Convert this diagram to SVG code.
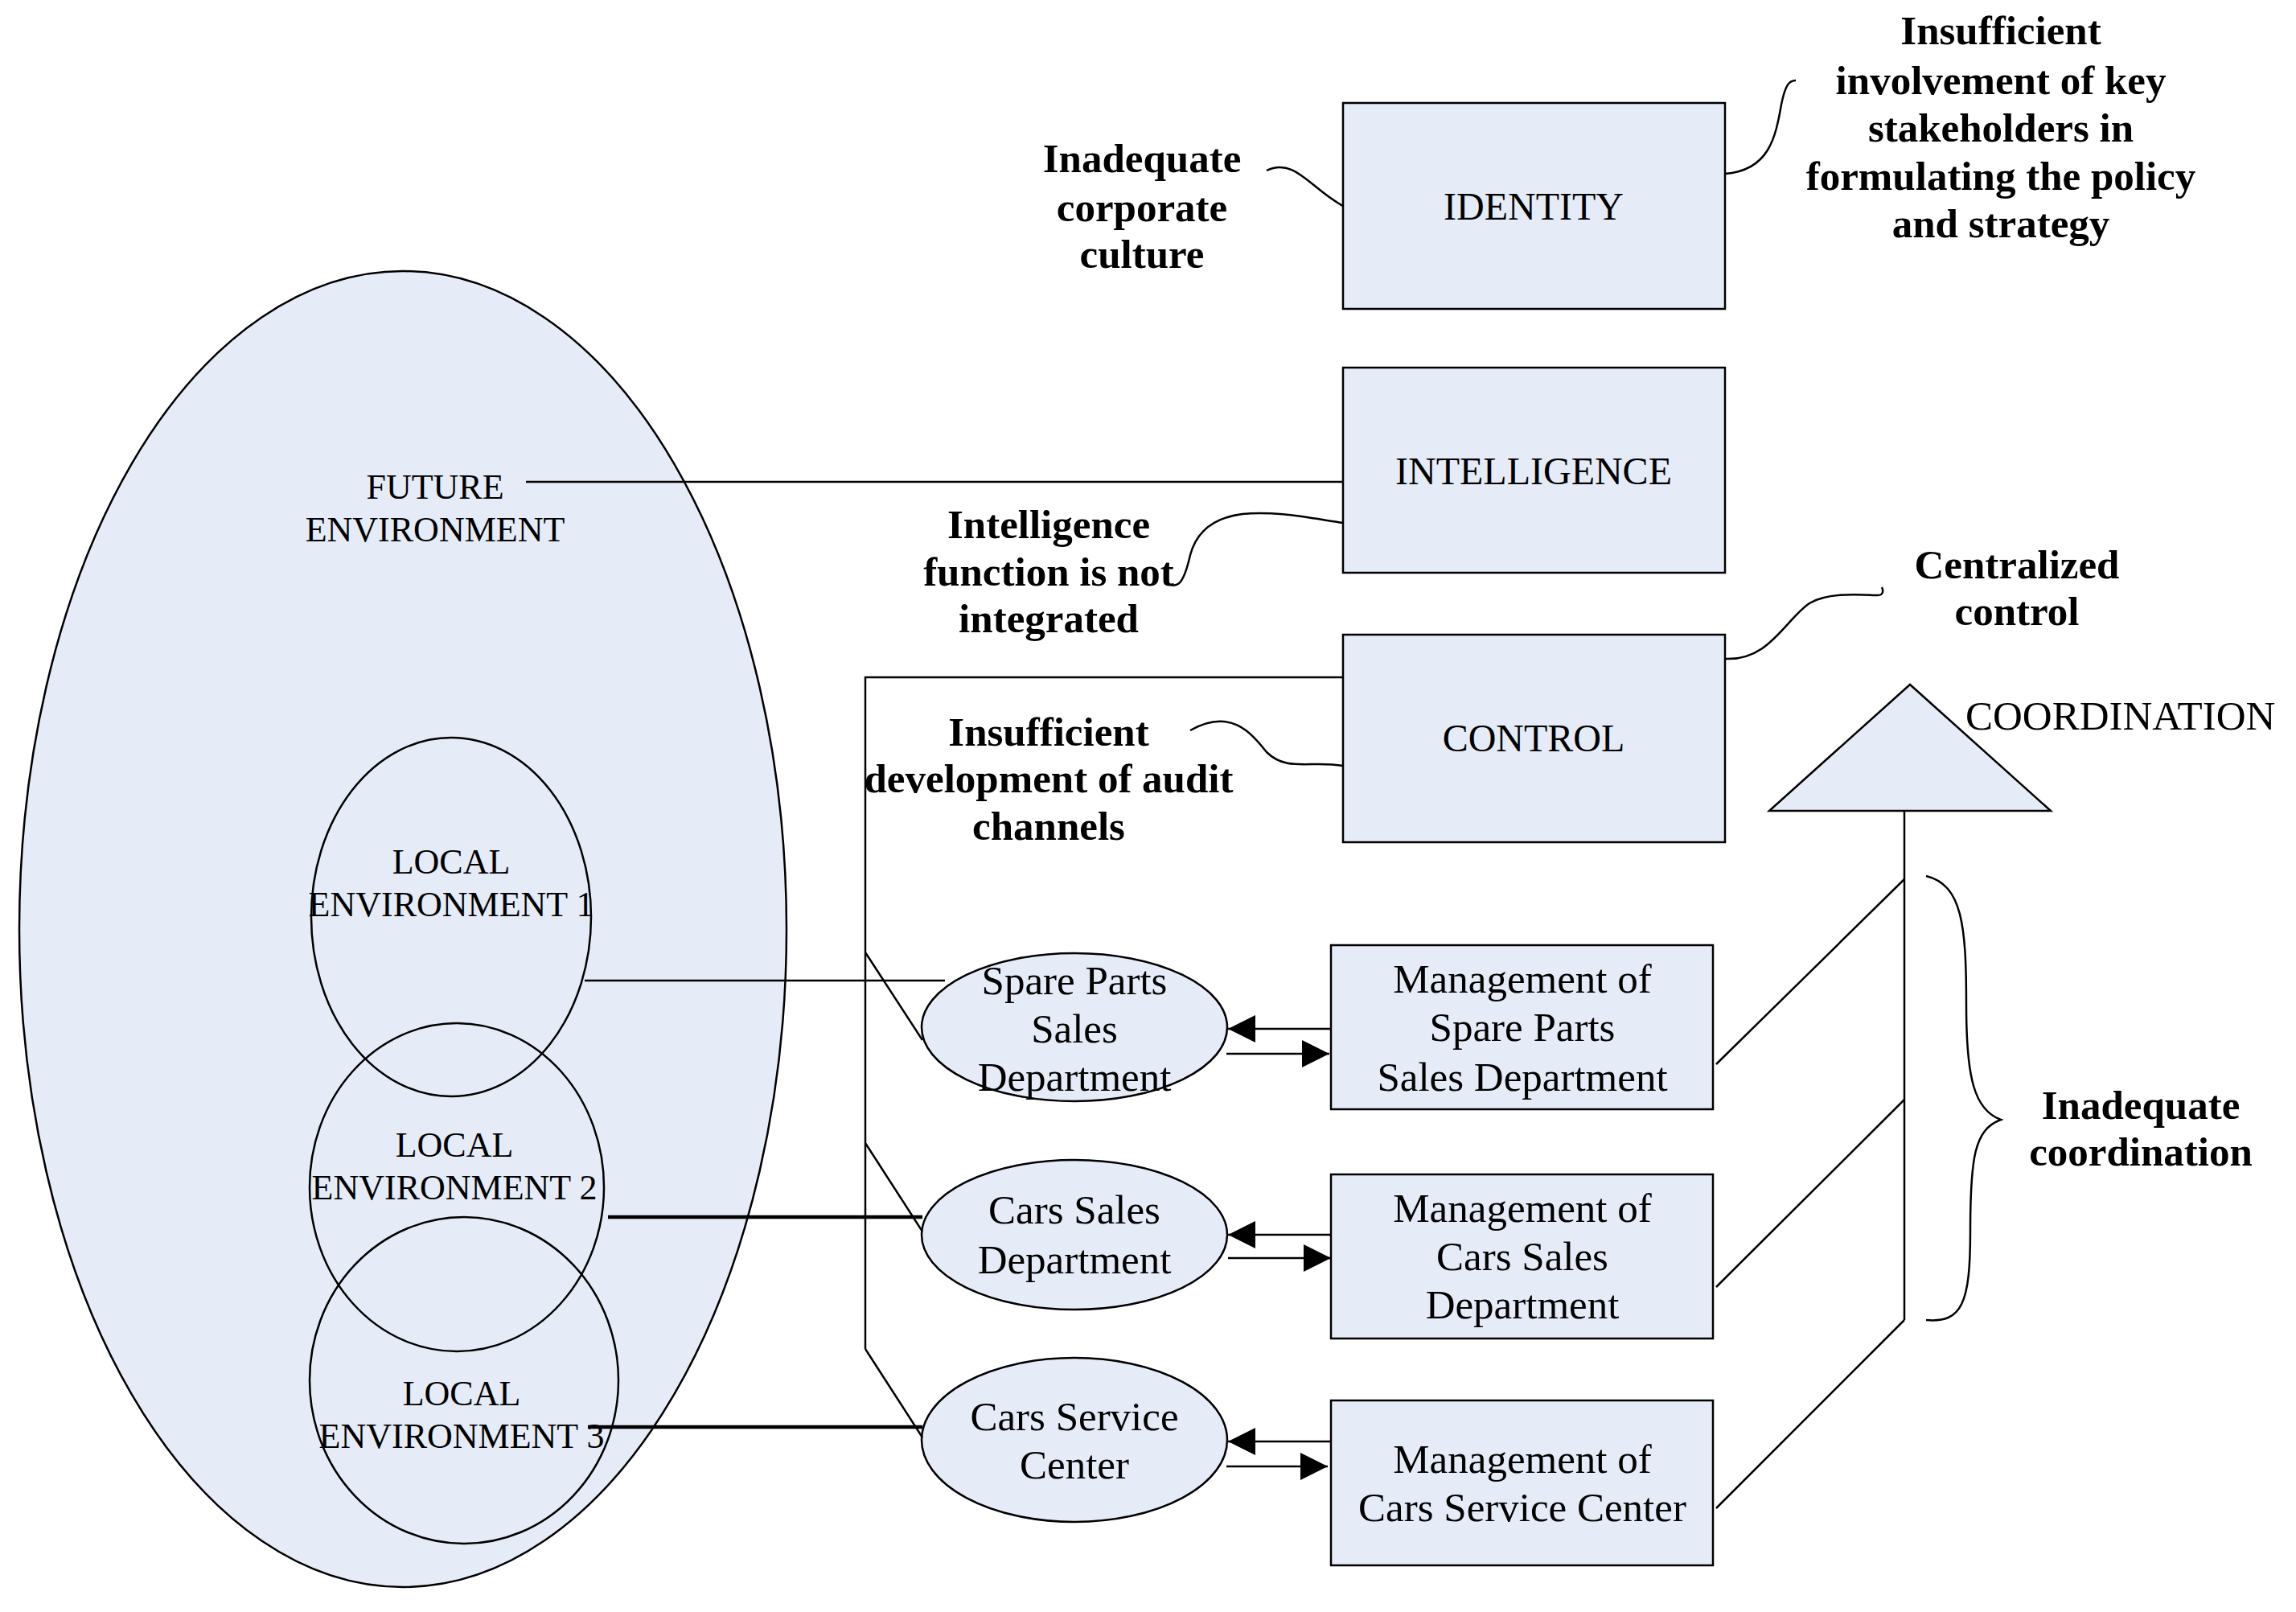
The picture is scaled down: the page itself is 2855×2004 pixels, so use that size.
<svg xmlns="http://www.w3.org/2000/svg" width="2855" height="2004" viewBox="0 0 2855 2004">
<style>
.s{fill:#e6ecf7;stroke:#000;stroke-width:2.5}
.l{fill:none;stroke:#000;stroke-width:2.5}
.k{stroke-width:4.5}
text{font-family:"Liberation Serif",serif;font-size:44px;text-anchor:middle;dominant-baseline:central;fill:#000}
.m{font-size:51px}
.b{font-weight:bold;font-size:51px}
.t{font-size:48px}
</style>
<defs>
<marker id="a" viewBox="0 0 10 10" refX="10" refY="5" markerWidth="38" markerHeight="34" markerUnits="userSpaceOnUse" orient="auto"><path d="M0 0L10 5L0 10z" fill="#000"/></marker>
</defs>
<rect width="2855" height="2004" fill="#fff"/>
<g id="future"><ellipse class="s" cx="501" cy="1155" rx="477" ry="818"/><text x="541" y="605">FUTURE</text><text x="541" y="658">ENVIRONMENT</text></g>
<g id="local1"><ellipse class="l" cx="561" cy="1140" rx="174" ry="223"/></g>
<g id="local2"><ellipse class="l" cx="568" cy="1476" rx="183" ry="204"/></g>
<g id="local3"><ellipse class="l" cx="577" cy="1716" rx="192" ry="203"/></g>
<g id="localtexts"><text x="561" y="1071">LOCAL</text><text x="561" y="1124">ENVIRONMENT 1</text>
<text x="565" y="1423">LOCAL</text><text x="565" y="1476">ENVIRONMENT 2</text>
<text x="574" y="1732">LOCAL</text><text x="574" y="1785">ENVIRONMENT 3</text></g>
<g id="identity"><rect class="s" x="1670" y="128" width="475" height="256"/><text class="t" x="1907" y="256">IDENTITY</text></g>
<g id="intelligence"><rect class="s" x="1670" y="457" width="475" height="255"/><text class="t" x="1907" y="585">INTELLIGENCE</text></g>
<g id="control"><rect class="s" x="1670" y="789" width="475" height="258"/><text class="t" x="1907" y="917">CONTROL</text></g>
<g id="coordination"><path class="s" d="M2375 851L2200 1008L2550 1008Z"/><text class="m" x="2444" y="890" style="text-anchor:start">COORDINATION</text></g>
<g id="spare"><ellipse class="s" cx="1336" cy="1277" rx="190" ry="92"/><text class="m" x="1336" y="1219">Spare Parts</text><text class="m" x="1336" y="1279">Sales</text><text class="m" x="1336" y="1339">Department</text></g>
<g id="carsales"><ellipse class="s" cx="1336" cy="1535" rx="190" ry="93"/><text class="m" x="1336" y="1504">Cars Sales</text><text class="m" x="1336" y="1566">Department</text></g>
<g id="service"><ellipse class="s" cx="1336" cy="1790" rx="190" ry="102"/><text class="m" x="1336" y="1761">Cars Service</text><text class="m" x="1336" y="1821">Center</text></g>
<g id="m1"><rect class="s" x="1655" y="1175" width="475" height="204"/><text class="m" x="1893" y="1217">Management of</text><text class="m" x="1893" y="1277">Spare Parts</text><text class="m" x="1893" y="1339">Sales Department</text></g>
<g id="m2"><rect class="s" x="1655" y="1460" width="475" height="204"/><text class="m" x="1893" y="1502">Management of</text><text class="m" x="1893" y="1562">Cars Sales</text><text class="m" x="1893" y="1622">Department</text></g>
<g id="m3"><rect class="s" x="1655" y="1741" width="475" height="205"/><text class="m" x="1893" y="1814">Management of</text><text class="m" x="1893" y="1874">Cars Service Center</text></g>
<g id="annotations">
<text class="b" x="1420" y="197">Inadequate</text><text class="b" x="1420" y="258">corporate</text><text class="b" x="1420" y="316">culture</text>
<text class="b" x="2488" y="38">Insufficient</text><text class="b" x="2488" y="100">involvement of key</text><text class="b" x="2488" y="159">stakeholders in</text><text class="b" x="2488" y="219">formulating the policy</text><text class="b" x="2488" y="278">and  strategy</text>
<text class="b" x="1304" y="652">Intelligence</text><text class="b" x="1304" y="711">function is not</text><text class="b" x="1304" y="769">integrated</text>
<text class="b" x="2508" y="702">Centralized</text><text class="b" x="2508" y="760">control</text>
<text class="b" x="1304" y="910">Insufficient</text><text class="b" x="1304" y="968">development of audit</text><text class="b" x="1304" y="1027">channels</text>
<text class="b" x="2662" y="1374">Inadequate</text><text class="b" x="2662" y="1432">coordination</text>
</g>
<g id="connectors">
<path class="l" d="M654 599H1670"/>
<path class="l" d="M1670 842H1076V1677M1076 1184L1147 1293M1076 1421L1147 1531M1076 1677L1147 1787"/>
<path class="l" d="M727 1219H1175"/>
<path class="l k" d="M756 1513H1147"/>
<path class="l k" d="M731 1774H1147"/>
<path class="l" d="M1655 1279H1527" marker-end="url(#a)"/>
<path class="l" d="M1525 1310H1653" marker-end="url(#a)"/>
<path class="l" d="M1655 1535H1527" marker-end="url(#a)"/>
<path class="l" d="M1527 1564H1655" marker-end="url(#a)"/>
<path class="l" d="M1655 1792H1527" marker-end="url(#a)"/>
<path class="l" d="M1525 1823H1651" marker-end="url(#a)"/>
<path class="l" d="M2368 1008V1641"/>
<path class="l" d="M2134 1323L2368 1093M2134 1600L2368 1367M2134 1875L2368 1641"/>
<path class="l" d="M2395 1089C2440 1100 2445 1150 2445 1250C2445 1340 2455 1380 2488 1392C2455 1404 2450 1440 2450 1530C2450 1620 2440 1645 2395 1641"/>
<path class="l" d="M1575 212C1610 195 1630 235 1670 256"/>
<path class="l" d="M2145 216C2200 212 2208 170 2215 130C2220 105 2225 100 2233 100"/>
<path class="l" d="M1670 650C1600 640 1500 615 1480 690C1472 725 1465 730 1455 727"/>
<path class="l" d="M2145 819C2200 822 2220 770 2250 750C2275 735 2320 740 2335 740C2342 740 2342 734 2340 730"/>
<path class="l" d="M1480 908C1530 880 1555 910 1575 935C1600 960 1630 945 1670 952"/>
</g>
</svg>
